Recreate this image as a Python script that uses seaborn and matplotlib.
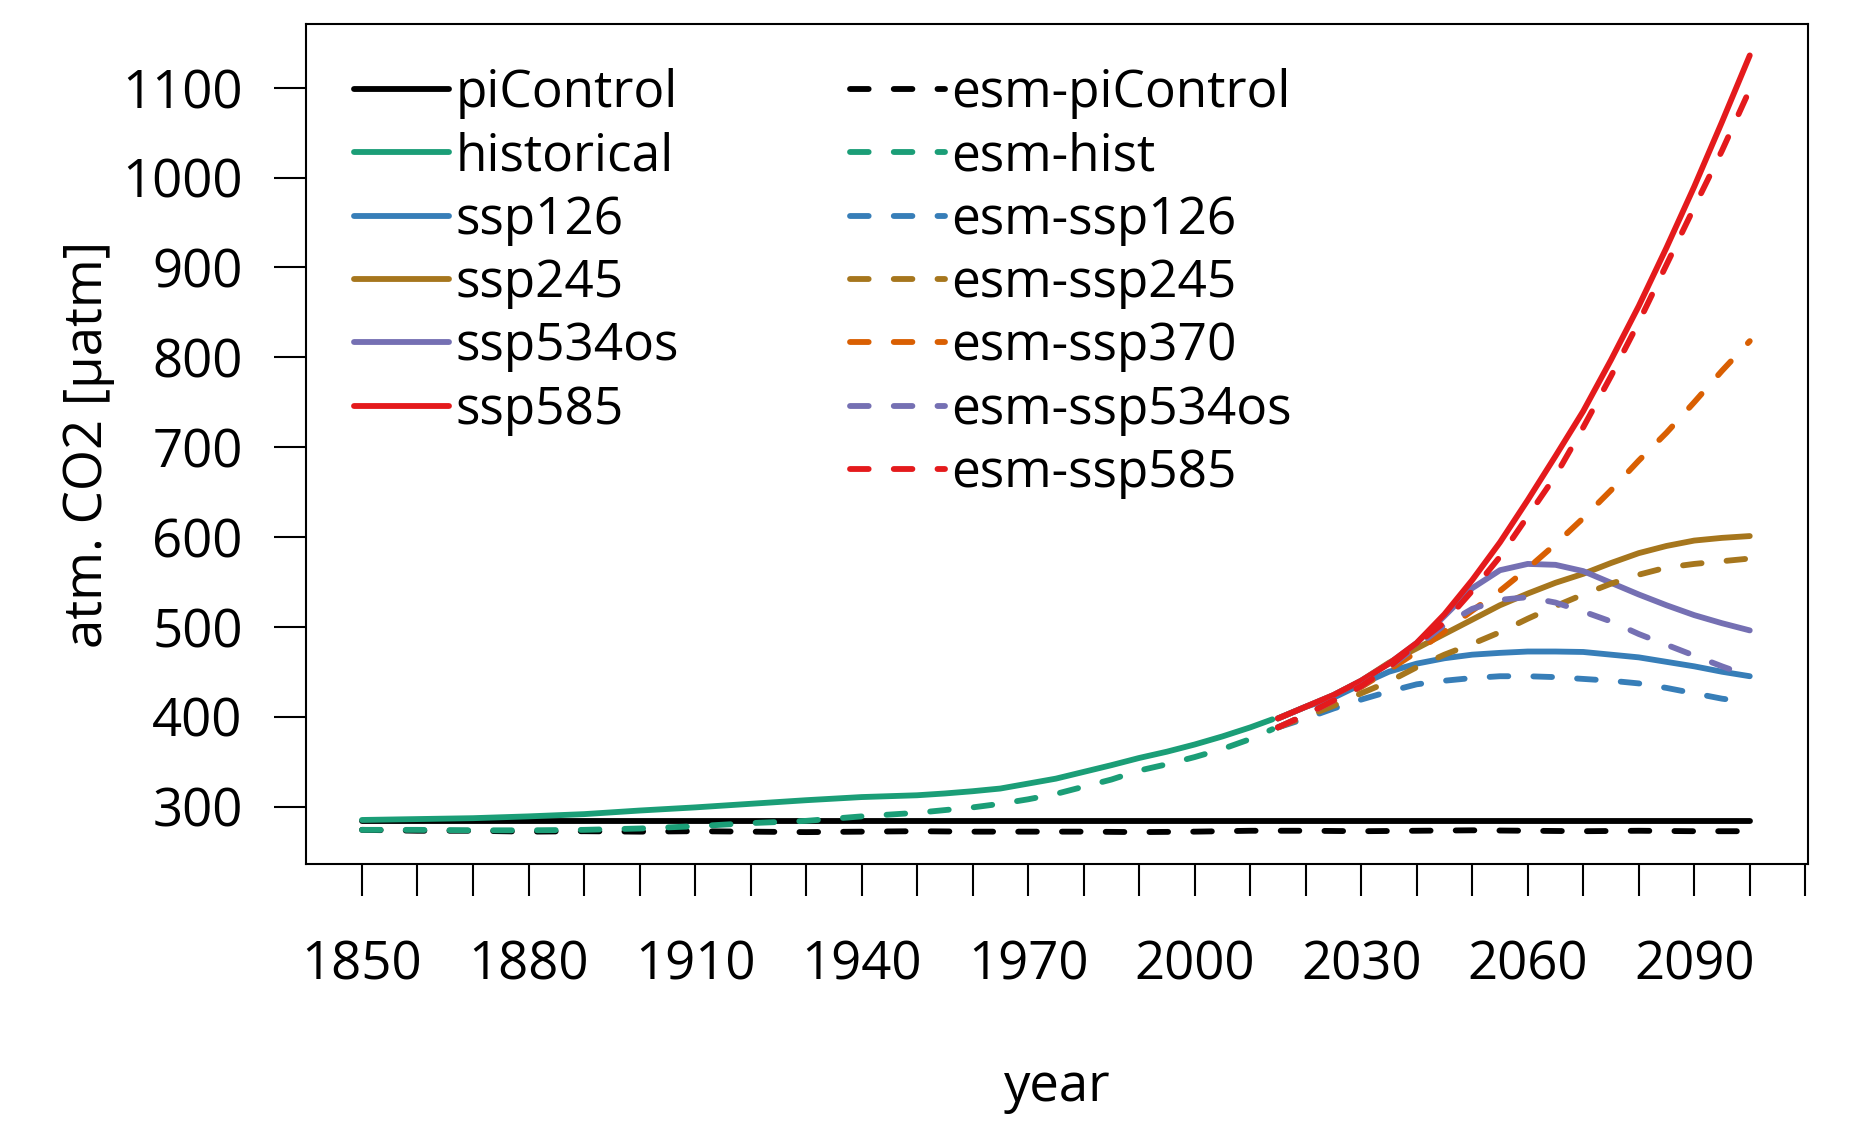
import seaborn as sns
import matplotlib.pyplot as plt
from matplotlib.lines import Line2D

# --- values (atm. CO2 in uatm) ---
hist_years = [1850, 1860, 1870, 1880, 1890, 1900, 1910, 1920, 1930, 1940, 1950, 1955,
              1960, 1965, 1970, 1975, 1980, 1985, 1990, 1995, 2000, 2005, 2010, 2014]
historical = [285, 286, 287, 289, 291.5, 295.5, 299, 303, 307, 310.5, 312.5, 314.5,
              317, 320, 325.5, 331, 338.5, 346, 354, 361, 369, 378, 388, 397]
esm_hist = [274, 274, 273.5, 273.5, 274, 275.5, 278, 281.5, 284, 289, 293, 296,
            299, 303, 308, 314, 322, 330, 340, 347, 355, 364, 375, 386]

pictrl_years = [1850, 2100]
picontrol = [284.3, 284.3]

esm_pictrl_years = [1850, 1860, 1870, 1880, 1890, 1900, 1910, 1920, 1930, 1940, 1950, 1960, 1970,
                    1980, 1990, 2000, 2010, 2020, 2030, 2040, 2050, 2060, 2070, 2080, 2090, 2100]
esm_picontrol = [274, 273, 273, 272, 272.5, 272, 272.5, 272, 271.5, 272, 272.5, 272, 272,
                 272, 271.5, 272, 273, 273, 272.5, 273, 273.5, 273, 272.5, 273, 272.5, 272.5]

scen_years = [2015, 2020, 2025, 2030, 2035, 2040, 2045, 2050, 2055,
              2060, 2065, 2070, 2075, 2080, 2085, 2090, 2095, 2100]
ssp126 = [398, 411, 421, 436, 450, 459, 465, 469, 471, 472.5, 472.5, 472, 469, 466, 461, 456, 450, 445]
ssp245 = [398, 411, 424, 440, 460, 476, 492, 508, 524, 537, 549, 559, 571, 582, 590, 596, 599, 601]
ssp534os = [398, 411, 424, 440, 459, 482, 512, 543, 563, 570, 569, 562, 549, 536, 524, 513, 504, 496]
ssp585 = [398, 411, 424, 440, 459, 482, 514, 552, 594, 641, 690, 740, 797, 857, 922, 990, 1062, 1136]
esm_ssp126 = [388, 398, 409, 419, 428, 436, 440, 443, 445, 445, 444, 442, 440, 437, 432, 426, 420, 416]
esm_ssp245 = [388, 400, 412, 426, 439, 455, 469, 481, 494, 509, 523, 536, 548, 558, 566, 570, 573, 576]
esm_ssp370 = [388, 402, 417, 433, 452, 472, 495, 518, 540, 565, 592, 621, 652, 685, 716, 750, 785, 818]
esm_ssp534os = [388, 402, 418, 434, 455, 478, 502, 520, 530, 533, 527, 517, 506, 492, 480, 468, 456, 445]
esm_ssp585 = [388, 402, 418, 434, 455, 481, 505, 540, 578, 623, 668, 722, 779, 839, 903, 967, 1030, 1098]

solid_runs = [
    ("piControl", pictrl_years, picontrol, "#000000"),
    ("historical", hist_years, historical, "#1B9E77"),
    ("ssp126", scen_years, ssp126, "#377EB8"),
    ("ssp245", scen_years, ssp245, "#A6761D"),
    ("ssp534os", scen_years, ssp534os, "#7570B3"),
    ("ssp585", scen_years, ssp585, "#E41A1C"),
]
dashed_runs = [
    ("esm-piControl", esm_pictrl_years, esm_picontrol, "#000000"),
    ("esm-hist", hist_years, esm_hist, "#1B9E77"),
    ("esm-ssp126", scen_years, esm_ssp126, "#377EB8"),
    ("esm-ssp245", scen_years, esm_ssp245, "#A6761D"),
    ("esm-ssp370", scen_years, esm_ssp370, "#D95F02"),
    ("esm-ssp534os", scen_years, esm_ssp534os, "#7570B3"),
    ("esm-ssp585", scen_years, esm_ssp585, "#E41A1C"),
]

# --- style ---
sns.set_style("ticks")
plt.rcParams["font.family"] = ["Open Sans", "DejaVu Sans"]
for key in ["text.color", "axes.labelcolor", "xtick.color", "ytick.color", "axes.edgecolor"]:
    plt.rcParams[key] = "black"
FS = 38
LW = 4.2
DASH = (0, (3.2, 4.3))

fig = plt.figure(figsize=(18.63, 11.25), dpi=100)
ax = fig.add_axes([0.1645, 0.232, 0.806, 0.7467])

handles = []
for name, x, y, col in solid_runs:
    sns.lineplot(x=x, y=y, ax=ax, color=col, linewidth=LW, solid_capstyle="round")
    handles.append(Line2D([], [], color=col, linewidth=LW, solid_capstyle="round", label=name))
handles.append(Line2D([], [], color="none", label=" "))
for name, x, y, col in dashed_runs:
    sns.lineplot(x=x, y=y, ax=ax, color=col, linewidth=LW, linestyle=DASH, dash_capstyle="round")
    handles.append(Line2D([], [], color=col, linewidth=LW, linestyle=DASH,
                          dash_capstyle="round", label=name))

ax.set_xlim(1840, 2110.5)
ax.set_ylim(236, 1171)

xt = list(range(1850, 2111, 10))
ax.set_xticks(xt)
ax.set_xticklabels([str(t) if (t - 1850) % 30 == 0 and t <= 2090 else "" for t in xt])
ax.set_yticks(range(300, 1101, 100))

for s in ax.spines.values():
    s.set_visible(True)
    s.set_linewidth(1.5)
    s.set_color("black")
ax.tick_params(axis="both", direction="out", length=23, width=1.5, labelsize=FS, color="black")
ax.tick_params(axis="x", pad=31)
ax.tick_params(axis="y", pad=23)

ax.set_xlabel("year", fontsize=FS)
ax.set_ylabel("atm. CO2 [µatm]", fontsize=FS)
ax.xaxis.set_label_coords(0.5, -0.2655)
ax.xaxis.label.set_va("center")
ax.yaxis.set_label_coords(-0.145, 0.5)
ax.yaxis.label.set_va("center")

ax.legend(handles=handles, ncol=2, frameon=False, fontsize=37,
          loc="upper left", bbox_to_anchor=(354 / 1863, 1 - 68 / 1125),
          bbox_transform=fig.transFigure, borderaxespad=0, borderpad=0,
          handlelength=1.85, handletextpad=0.12, columnspacing=3.34, labelspacing=0.24)

plt.savefig("out.png", dpi=100)
plt.close()
